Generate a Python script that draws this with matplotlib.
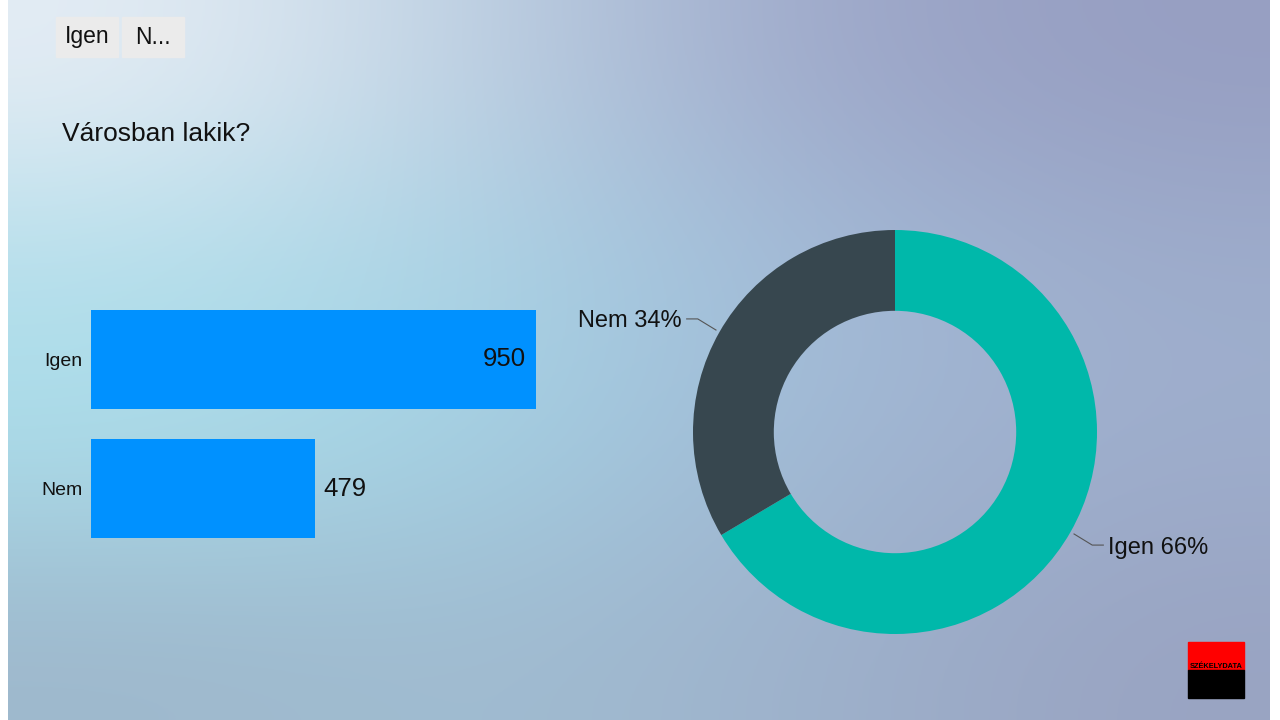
import matplotlib
matplotlib.use("Agg")
import matplotlib.pyplot as plt
import numpy as np

plt.rcParams['font.family'] = ['Liberation Sans', 'DejaVu Sans']

# data
categories = ['Igen', 'Nem']
counts = [950, 479]
title = 'Városban lakik?'
tabs = ['Igen', 'N...']

W, H = 1280, 720
fig = plt.figure(figsize=(W / 100, H / 100), dpi=100)
fig.patch.set_facecolor('white')

def px(x, y, w, h):
    # pixel box (top-left origin) -> figure fraction
    return [x / W, 1 - (y + h) / H, w / W, h / H]

# background gradient (low-poly look approximated)
bg = fig.add_axes(px(8, 0, 1262, 720))
grid = np.array([
    [[0.90, 0.93, 0.96], [0.74, 0.82, 0.89], [0.62, 0.66, 0.79], [0.59, 0.62, 0.76]],
    [[0.70, 0.87, 0.92], [0.66, 0.83, 0.90], [0.64, 0.74, 0.85], [0.62, 0.68, 0.80]],
    [[0.67, 0.87, 0.92], [0.64, 0.82, 0.89], [0.63, 0.72, 0.83], [0.62, 0.68, 0.80]],
    [[0.62, 0.72, 0.80], [0.63, 0.74, 0.82], [0.62, 0.70, 0.80], [0.60, 0.64, 0.76]],
])
bg.imshow(grid, aspect='auto', interpolation='bicubic', extent=[0, 1, 0, 1])
bg.set_axis_off()

# top tabs
tab_x = [56, 122]
for tx, lab in zip(tab_x, tabs):
    fig.patches.append(plt.Rectangle(((tx) / W, 1 - 57 / H), 62 / W, 40 / H,
                                     transform=fig.transFigure, color='#EBEBEB', zorder=2))
    fig.text((tx + 31) / W, 1 - 37 / H, lab, ha='center', va='center', fontsize=16.5,
             color='#111111', zorder=3)

fig.text(62 / W, 1 - 134 / H, title, ha='left', va='center', fontsize=19, color='#111111')

# bar chart
ax = fig.add_axes(px(91, 295, 445, 258))
ax.set_facecolor('none')
y = np.arange(len(categories))
ax.barh(y, counts, height=0.76, color='#0091FF')
ax.set_xlim(0, max(counts))
ax.set_ylim(len(categories) - 0.5, -0.5)
ax.set_yticks(y)
ax.set_yticklabels(categories, fontsize=14, color='#111111')
ax.tick_params(axis='y', length=0, pad=6)
ax.set_xticks([])
for s in ax.spines.values():
    s.set_visible(False)
for yi, v in zip(y, counts):
    if v > max(counts) * 0.8:
        ax.text(v - max(counts) * 0.022, yi, str(v), ha='right', va='center', fontsize=18.5, color='#111111')
    else:
        ax.text(v + max(counts) * 0.017, yi, str(v), ha='left', va='center', fontsize=18.5, color='#111111')

# donut
pax = fig.add_axes(px(895 - 202, 432 - 202, 404, 404))
pax.set_facecolor('none')
total = sum(counts)
colors = ['#00B8AA', '#37474F']
wedges, _ = pax.pie(counts, colors=colors, startangle=90, counterclock=False,
                    radius=1, wedgeprops=dict(width=0.4, edgecolor='none'))
pax.set_xlim(-1, 1)
pax.set_ylim(-1, 1)
pax.set_aspect('equal')
pax.set_axis_off()

for w, lab, v in zip(wedges, categories, counts):
    ang = np.deg2rad((w.theta1 + w.theta2) / 2)
    x0, y0 = 1.02 * np.cos(ang), 1.02 * np.sin(ang)
    sgn = 1 if x0 > 0 else -1
    x1, y1 = x0 + sgn * 0.09, y0 + np.sign(y0) * 0.055
    x2 = x1 + sgn * 0.055
    pax.plot([x0, x1, x2], [y0, y1, y1], color='#555555', lw=0.8, clip_on=False)
    pct = '%s %d%%' % (lab, round(v / total * 100))
    pax.text(x2 + sgn * 0.025, y1 - 0.012, pct, ha='left' if sgn > 0 else 'right', va='center',
             fontsize=17, color='#111111', clip_on=False)

# logo
fig.patches.append(plt.Rectangle((1188 / W, 1 - 670 / H), 56 / W, 28 / H,
                                 transform=fig.transFigure, color='#FF0000', zorder=2))
fig.patches.append(plt.Rectangle((1188 / W, 1 - 698 / H), 56 / W, 28 / H,
                                 transform=fig.transFigure, color='#000000', zorder=2))
fig.text(1216 / W, 1 - 667 / H, 'SZÉKELYDATA', ha='center', va='center', fontsize=5.3,
         color='#000000', fontweight='bold', zorder=3)

fig.savefig('out.png', dpi=100)
